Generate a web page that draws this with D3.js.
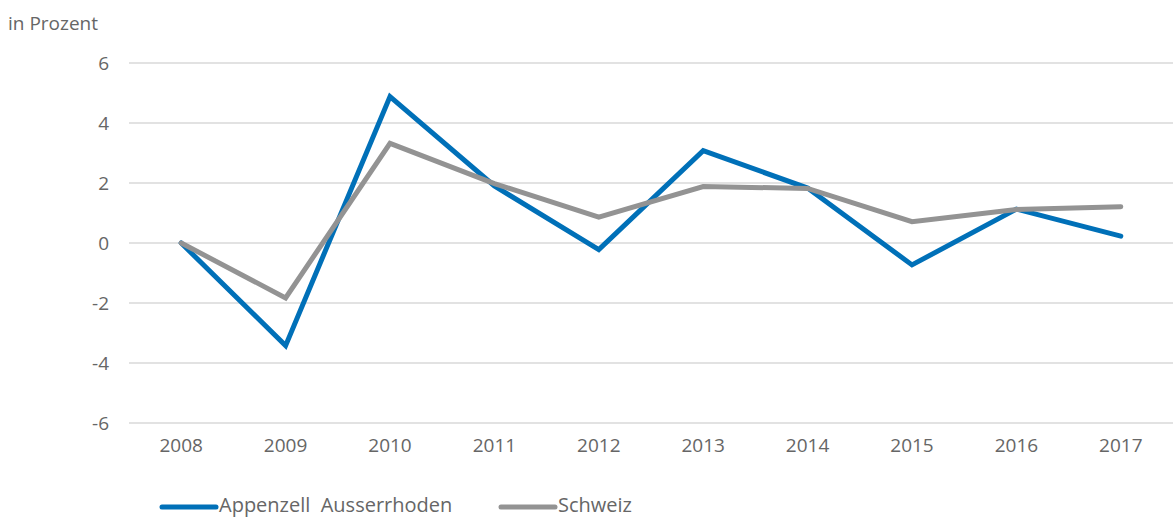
<!DOCTYPE html>
<html>
<head>
<meta charset="utf-8">
<title>Veränderung in Prozent</title>
<script src="https://cdn.jsdelivr.net/npm/d3@7"></script>
<style>
  body { margin: 0; background: #fff; }
  text { font-family: "Open Sans", Lato, sans-serif; fill: #666; }
</style>
</head>
<body>
<script>
// Daten
var jahre = ["2008", "2009", "2010", "2011", "2012", "2013", "2014", "2015", "2016", "2017"];
var appenzell = [0, -3.42, 4.88, 1.9, -0.22, 3.08, 1.83, -0.73, 1.13, 0.23];
var schweiz = [0, -1.83, 3.32, 1.98, 0.86, 1.88, 1.82, 0.71, 1.12, 1.21];
var yTicks = [-6, -4, -2, 0, 2, 4, 6];
var serien = [
  {name: "Appenzell  Ausserrhoden", werte: appenzell, farbe: "#0070b8"},
  {name: "Schweiz", werte: schweiz, farbe: "#939393"}
];

var width = 1173, height = 518;
var svg = d3.select("body").append("svg")
  .attr("width", width)
  .attr("height", height);

var x = d3.scaleBand().domain(jahre).range([129, 1173]);
var y = d3.scaleLinear().domain([-6, 6]).range([423, 63]);

// Gitterlinien
svg.selectAll(".grid")
  .data(yTicks)
  .enter()
  .append("line")
  .attr("x1", 129)
  .attr("x2", 1173)
  .attr("y1", function(d){ return y(d); })
  .attr("y2", function(d){ return y(d); })
  .attr("stroke", "#d9d9d9")
  .attr("stroke-width", 1.3);

// y-Achse
var yAxis = svg.append("g")
  .attr("transform", "translate(109,0)")
  .call(d3.axisLeft(y).tickValues(yTicks).tickFormat(function(d){ return String(d); }).tickSize(0).tickPadding(0));
yAxis.select(".domain").remove();
yAxis.selectAll("text")
  .attr("font-size", 19)
  .attr("dy", "0.35em")
  .style("font-family", "'Open Sans', sans-serif")
  .attr("fill", "#666");

// x-Achse
var xAxis = svg.append("g")
  .attr("transform", "translate(0,438)")
  .call(d3.axisBottom(x).tickSize(0).tickPadding(0));
xAxis.select(".domain").remove();
xAxis.selectAll("text")
  .attr("font-size", 19)
  .attr("dy", "0.71em")
  .style("font-family", "'Open Sans', sans-serif")
  .attr("fill", "#666");

// Linien
var linie = d3.line()
  .x(function(d, i){ return x(jahre[i]) + x.bandwidth() / 2; })
  .y(function(d){ return y(d); });

serien.forEach(function(s){
  svg.append("path")
    .datum(s.werte)
    .attr("d", linie)
    .attr("fill", "none")
    .attr("stroke", s.farbe)
    .attr("stroke-width", 5)
    .attr("stroke-linejoin", "miter")
    .attr("stroke-linecap", "round");
});

// Legende
var legX = [162, 501];
serien.forEach(function(s, i){
  svg.append("line")
    .attr("x1", legX[i])
    .attr("x2", legX[i] + 54)
    .attr("y1", 507)
    .attr("y2", 507)
    .attr("stroke", s.farbe)
    .attr("stroke-width", 5)
    .attr("stroke-linecap", "round");
  svg.append("text")
    .attr("x", legX[i] + 57)
    .attr("y", 512)
    .attr("font-size", 20)
    .attr("xml:space", "preserve")
    .text(s.name);
});

// Titel
svg.append("text")
  .attr("x", 8)
  .attr("y", 30)
  .attr("font-size", 19)
  .text("in Prozent");
</script>
</body>
</html>
